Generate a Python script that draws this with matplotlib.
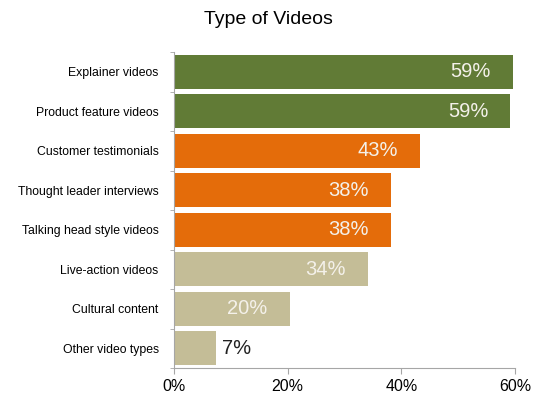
import numpy as np
import matplotlib.pyplot as plt

plt.rcParams['font.family'] = ['Liberation Sans', 'DejaVu Sans']

categories = ['Explainer videos', 'Product feature videos', 'Customer testimonials',
              'Thought leader interviews', 'Talking head style videos', 'Live-action videos',
              'Cultural content', 'Other video types']
values = [59.7, 59.2, 43.3, 38.2, 38.2, 34.1, 20.4, 7.4]
labels = ['59%', '59%', '43%', '38%', '38%', '34%', '20%', '7%']
green, orange, tan = '#617b36', '#e46c0a', '#c4bd97'
colors = [green, green, orange, orange, orange, tan, tan, tan]

fig = plt.figure(figsize=(5.33, 3.97), dpi=100)
ax = fig.add_axes([174/533, 1-368/397, (515-174)/533, (368-52)/397])

y = np.arange(len(categories))
bars = ax.barh(y, values, height=0.86, color=colors)
ax.set_ylim(len(categories)-0.5, -0.5)
ax.set_xlim(0, 60)

for b, v, lab in zip(bars, values, labels):
    yc = b.get_y() + b.get_height()/2
    if v > 15:
        ax.annotate(lab, (v, yc), xytext=(-16, 0), textcoords='offset points',
                    ha='right', va='center', color='#f4f1ea', fontsize=14.5)
    else:
        ax.annotate(lab, (v, yc), xytext=(4, 0), textcoords='offset points',
                    ha='left', va='center', color='#222222', fontsize=14.5)

ax.set_yticks(y)
ax.set_yticklabels(categories, fontsize=8.8)
ax.set_yticks(np.arange(-0.5, len(categories)), minor=True)
ax.tick_params(axis='y', which='major', length=0, pad=11)
ax.tick_params(axis='y', which='minor', length=3, color='#a6a6a6', direction='out')
ax.set_xticks([0, 20, 40, 60])
ax.set_xticklabels(['0%', '20%', '40%', '60%'], fontsize=11.5)
ax.tick_params(axis='x', length=4, color='#a6a6a6', pad=4)

for s in ['top', 'right']:
    ax.spines[s].set_visible(False)
for s in ['left', 'bottom']:
    ax.spines[s].set_color('#a6a6a6')

fig.text(268/533, 1-20/397, 'Type of Videos', ha='center', va='center', fontsize=14)

fig.savefig('out.png', dpi=100)
